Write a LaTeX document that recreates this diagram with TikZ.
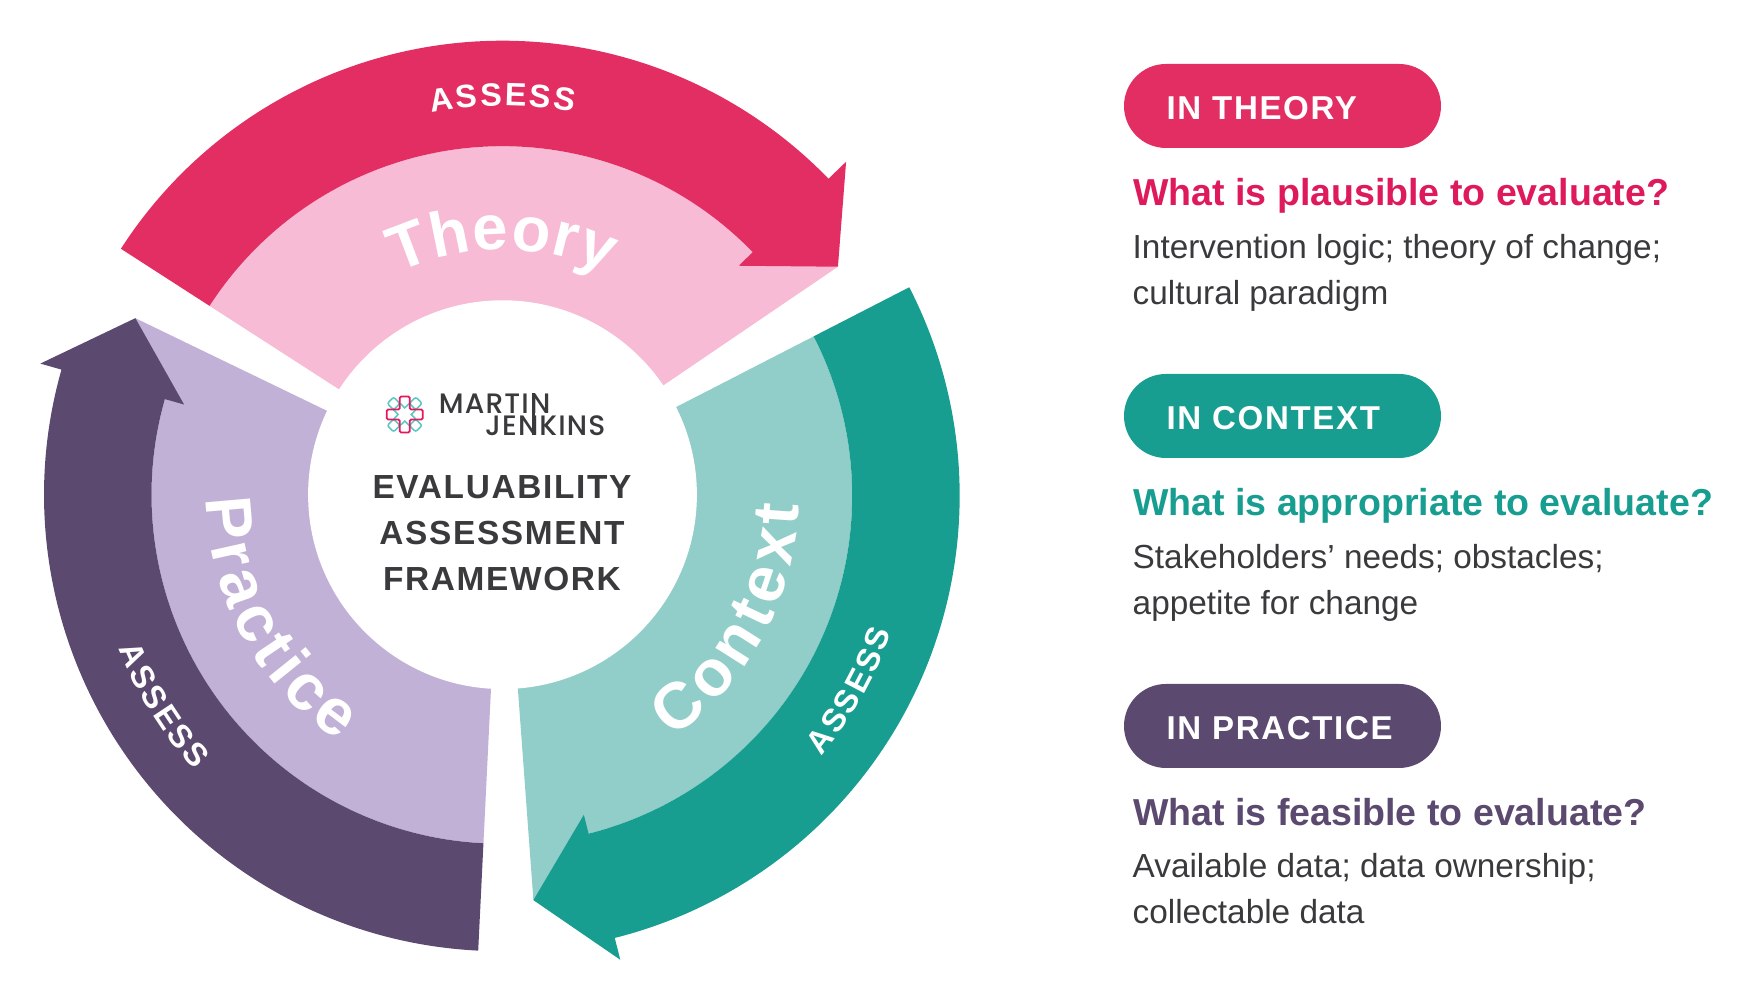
\documentclass[tikz,border=0pt]{standalone}
\usepackage{fontspec}
\usepackage{tikz}
\usetikzlibrary{decorations.text}
\setmainfont{Liberation Sans}
\newfontfamily\trackfont[LetterSpace=5]{Liberation Sans}
\newfontfamily\logofont[UprightFont=* Medium,LetterSpace=4]{Poppins}

\definecolor{theorydark}{HTML}{E32E63}
\definecolor{theorypale}{HTML}{F7BBD5}
\definecolor{contextdark}{HTML}{179E90}
\definecolor{contextpale}{HTML}{91CEC9}
\definecolor{practicedark}{HTML}{5B4970}
\definecolor{practicepale}{HTML}{C2B1D6}
\definecolor{theoryhead}{HTML}{DE1A5A}
\definecolor{bodygrey}{HTML}{3A3A3C}
\definecolor{logoteal}{HTML}{5CC8C4}
\definecolor{logored}{HTML}{E8175D}

\tikzset{
  pill/.style={fill=#1, text=white, rounded corners=.42cm, minimum height=.84cm,
    text width=2.32cm, inner xsep=.425cm, inner ysep=0, text height=.28cm, text depth=0cm,
    font=\trackfont\fontsize{9.4pt}{11pt}\selectfont\bfseries},
  head/.style={anchor=base west, inner sep=0, text=#1, font=\fontsize{10.68pt}{12pt}\selectfont\bfseries},
  body/.style={anchor=base west, inner sep=0, text=bodygrey, font=\fontsize{9.49pt}{12pt}\selectfont},
  title/.style={inner sep=0, text=bodygrey, font=\trackfont\fontsize{9.5pt}{12pt}\selectfont\bfseries},
  logotext/.style={anchor=base east, inner sep=0, text=bodygrey, font=\logofont\fontsize{8pt}{10pt}\selectfont},
  petal/.style={draw=logoteal, line width=.45pt, rounded corners=.6pt},
  armline/.style={draw=logored, line width=.5pt, rounded corners=.4pt}
}

\begin{document}
\begin{tikzpicture}
\useasboundingbox (0,0) rectangle (17.57,9.88);

% ring of three arrows
\foreach \rot/\dark/\pale/\midr/\outr/\dx/\dy in {0/theorydark/theorypale/3.485/4.54/0/0, -120/contextdark/contextpale/3.485/4.56/.012/-.01, 120/practicedark/practicepale/3.49/4.565/-.02/0}{
\begin{scope}[shift={(5.025+\dx,4.933+\dy)},rotate=\rot]
\fill[\pale] (147.2:1.8)--(147.2:\midr) arc[start angle=147.2,end angle=44.1,radius=\midr]
  --(34.2:4.056)--(34.2:1.8) arc[start angle=34.2,end angle=147.2,radius=1.8]--cycle;
\fill[\dark] (147.2:\midr)--(147.2:\outr) arc[start angle=147.2,end angle=44.1,radius=\outr]
  --(44.1:4.785)--(34.2:4.056)--(44.1:3.29)--(44.1:\midr)
  arc[start angle=44.1,end angle=147.2,radius=\midr]--cycle;
\end{scope}
}
\fill[white] (5.025,4.933) circle (1.944);

% curved words
\begin{scope}[shift={(5.025,4.933)}]
\path[decorate,decoration={text along path,text align=center,
  text={|\trackfont\fontsize{9.2pt}{11pt}\selectfont\bfseries\color{white}|A{\kern.7pt}S{\kern.7pt}S{\kern.7pt}E{\kern.7pt}S{\kern.7pt}S}}]
  (130:3.89) arc[start angle=130,end angle=50,radius=3.89];
\path[decorate,decoration={text along path,text align=center,
  text={|\trackfont\fontsize{9.2pt}{11pt}\selectfont\bfseries\color{white}|A{\kern.7pt}S{\kern.7pt}S{\kern.7pt}E{\kern.7pt}S{\kern.7pt}S}}]
  (-69.4:4.125) arc[start angle=-69.4,end angle=10.6,radius=4.125];
\path[decorate,decoration={text along path,text align=center,
  text={|\trackfont\fontsize{9.2pt}{11pt}\selectfont\bfseries\color{white}|A{\kern.7pt}S{\kern.7pt}S{\kern.7pt}E{\kern.7pt}S{\kern.7pt}S}}]
  (171.8:4.135) arc[start angle=171.8,end angle=251.8,radius=4.135];
\path[decorate,decoration={text along path,text align=center,
  text={|\fontsize{18pt}{20pt}\selectfont\bfseries\color{white}|T{\kern.3pt}h{\kern.3pt}e{\kern.3pt}o{\kern.3pt}r{\kern.3pt}y}}]
  (140:2.45) arc[start angle=140,end angle=40,radius=2.45];
\path[decorate,decoration={text along path,text align=center,
  text={|\fontsize{18.5pt}{20pt}\selectfont\bfseries\color{white}|C{\kern1.55pt}o{\kern1.55pt}n{\kern1.55pt}t{\kern1.55pt}e{\kern1.55pt}x{\kern1.55pt}t}}]
  (-83.5:2.97) arc[start angle=-83.5,end angle=26.5,radius=2.97];
\path[decorate,decoration={text along path,text align=center,
  text={|\fontsize{18.5pt}{20pt}\selectfont\bfseries\color{white}|P{\kern1.4pt}r{\kern1.4pt}a{\kern1.4pt}c{\kern1.4pt}t{\kern1.4pt}i{\kern1.4pt}c{\kern1.4pt}e}}]
  (153.6:2.96) arc[start angle=153.6,end angle=263.6,radius=2.96];
\end{scope}

% logo
\begin{scope}[shift={(4.047,5.735)}]
\foreach \ang in {45,135,225,315}{
\draw[petal,rotate=\ang] (.111,-.045) rectangle (.201,.045);
}
\foreach \ang in {0,90,180,270}{
\draw[draw=logoteal,line width=.45pt,rotate=\ang] (-.046,.11)--(0,.066)--(.046,.11);
}
\draw[armline] (-.05,-.05)--(-.05,-.18)--(.05,-.18)--(.05,-.05)--(.18,-.05)--(.18,.05)--(.05,.05)
  --(.05,.18)--(-.05,.18)--(-.05,.05)--(-.18,.05)--(-.18,-.05)--cycle;
\end{scope}
\node[logotext] (martin) at (5.51,5.745) {MARTIN};
\node[logotext] (jenkins) at (6.06,5.525) {JENKINS};
\draw[bodygrey,line width=.8pt] (5.335,5.525)--(5.335,5.945);

\node[title] (evaluability) at (5.02,5.01) {EVALUABILITY};
\node[title] (assessment) at (5.02,4.55) {ASSESSMENT};
\node[title] (framework) at (5.02,4.09) {FRAMEWORK};

% right hand column
\node[pill=theorydark] (intheory) at (12.825,8.82) {IN THEORY};
\node[head=theoryhead] (qtheory) at (11.325,7.824) {What is plausible to evaluate?};
\node[body] (atheory) at (11.32,7.298) {Intervention logic; theory of change;};
\node[body] (btheory) at (11.32,6.838) {cultural paradigm};

\node[pill=contextdark] (incontext) at (12.825,5.72) {IN CONTEXT};
\node[head=contextdark] (qcontext) at (11.325,4.724) {What is appropriate to evaluate?};
\node[body] (acontext) at (11.32,4.198) {Stakeholders’ needs; obstacles;};
\node[body] (bcontext) at (11.32,3.738) {appetite for change};

\node[pill=practicedark] (inpractice) at (12.825,2.62) {IN PRACTICE};
\node[head=practicedark] (qpractice) at (11.325,1.624) {What is feasible to evaluate?};
\node[body] (apractice) at (11.32,1.103) {Available data; data ownership;};
\node[body] (bpractice) at (11.32,.643) {collectable data};
\end{tikzpicture}
\end{document}
